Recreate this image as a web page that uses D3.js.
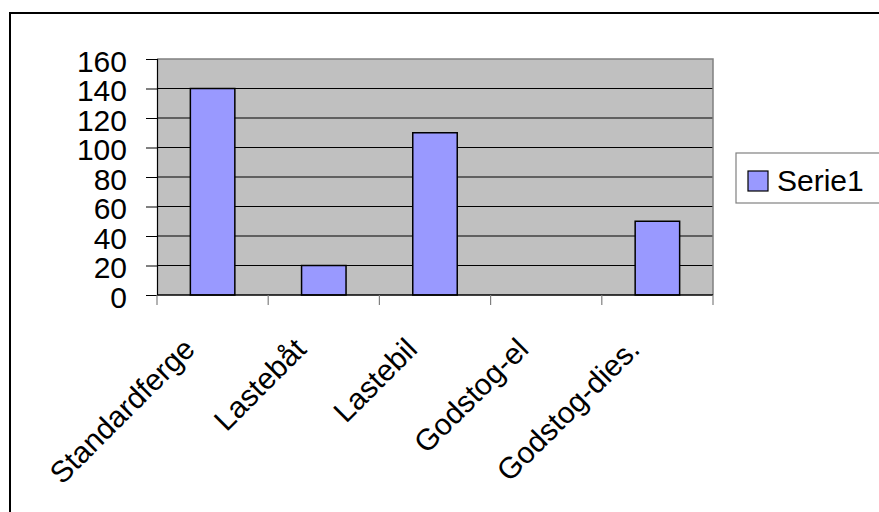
<!DOCTYPE html>
<html>
<head>
<meta charset="utf-8">
<script src="https://cdn.jsdelivr.net/npm/d3@7"></script>
<style>
  body { margin: 0; background: #fff; }
  text { font-family: "Liberation Sans", Arial, sans-serif; fill: #000; }
</style>
</head>
<body>
<svg id="chart" width="879" height="512"></svg>
<script>
var categories = ['Standardferge', 'Lastebåt', 'Lastebil', 'Godstog-el', 'Godstog-dies.'];
var values = [140, 20, 110, 0, 50];
var yTicks = [0, 20, 40, 60, 80, 100, 120, 140, 160];
var seriesName = 'Serie1';

var svg = d3.select('#chart');

var plot = {left: 157, right: 713, top: 59, bottom: 295};

var x = d3.scaleBand().domain(categories).range([plot.left, plot.right]).paddingInner(0.6).paddingOuter(0.3);
var xCat = d3.scaleBand().domain(categories).range([plot.left, plot.right]);
var y = d3.scaleLinear().domain([0, 160]).range([plot.bottom, plot.top]);

// outer chart border (cut off at right/bottom)
svg.append('rect')
	.attr('x', 10).attr('y', 13)
	.attr('width', 900).attr('height', 600)
	.attr('fill', 'none').attr('stroke', '#000').attr('stroke-width', 2);

// plot background
svg.append('rect')
	.attr('x', plot.left).attr('y', plot.top)
	.attr('width', plot.right - plot.left).attr('height', plot.bottom - plot.top)
	.attr('fill', '#c0c0c0');

// gridlines
svg.append('g').selectAll('line')
	.data(yTicks.slice(1, -1))
	.enter().append('line')
	.attr('x1', plot.left).attr('x2', plot.right)
	.attr('y1', function(d) { return y(d); })
	.attr('y2', function(d) { return y(d); })
	.attr('stroke', '#000').attr('stroke-width', 1);

// top / right border of plot area
svg.append('path')
	.attr('d', 'M' + plot.left + ',' + y(160) + 'H' + plot.right + 'V' + plot.bottom)
	.attr('fill', 'none').attr('stroke', '#808080').attr('stroke-width', 1.5);

// bars
svg.append('g').selectAll('rect')
	.data(values)
	.enter().append('rect')
	.attr('x', function(d, i) { return x(categories[i]); })
	.attr('width', x.bandwidth())
	.attr('y', function(d) { return y(d); })
	.attr('height', function(d) { return y(0) - y(d); })
	.attr('fill', '#9999ff')
	.attr('stroke', '#000').attr('stroke-width', function(d) { return d > 0 ? 1.5 : 0; });

// y axis
var yAxis = d3.axisLeft(y).tickValues(yTicks).tickSize(11).tickPadding(19);
var gy = svg.append('g').attr('transform', 'translate(' + plot.left + ',0)').call(yAxis);
gy.select('.domain').attr('stroke', '#000').attr('stroke-width', 1.2);
gy.selectAll('.tick line').attr('stroke', '#000');
gy.selectAll('.tick text')
	.attr('font-size', 30)
	.attr('font-family', '"Liberation Sans", Arial, sans-serif')
	.attr('dy', '0.4em');

// x axis
var xTicks = d3.range(categories.length + 1).map(function(i) { return plot.left + i * xCat.step(); });
svg.append('line')
	.attr('x1', plot.left).attr('x2', plot.right)
	.attr('y1', plot.bottom).attr('y2', plot.bottom)
	.attr('stroke', '#000').attr('stroke-width', 1.5);
svg.append('g').selectAll('line')
	.data(xTicks)
	.enter().append('line')
	.attr('x1', function(d) { return d; }).attr('x2', function(d) { return d; })
	.attr('y1', plot.bottom).attr('y2', plot.bottom + 10)
	.attr('stroke', '#808080').attr('stroke-width', 1.2);

svg.append('g').selectAll('text')
	.data(categories)
	.enter().append('text')
	.attr('transform', function(d) {
		var cx = xCat(d) + xCat.bandwidth() / 2;
		return 'translate(' + (cx - 16) + ',' + 351 + ') rotate(-45)';
	})
	.attr('text-anchor', 'end')
	.attr('font-size', 30)
	.text(function(d) { return d; });

// legend
var legend = svg.append('g');
legend.append('rect')
	.attr('x', 736).attr('y', 153)
	.attr('width', 170).attr('height', 50)
	.attr('fill', '#fff').attr('stroke', '#808080').attr('stroke-width', 1.2);
legend.append('rect')
	.attr('x', 748).attr('y', 171)
	.attr('width', 20).attr('height', 20)
	.attr('fill', '#9999ff').attr('stroke', '#000').attr('stroke-width', 1.2);
legend.append('text')
	.attr('x', 777).attr('y', 191)
	.attr('font-size', 30)
	.text(seriesName);
</script>
</body>
</html>
